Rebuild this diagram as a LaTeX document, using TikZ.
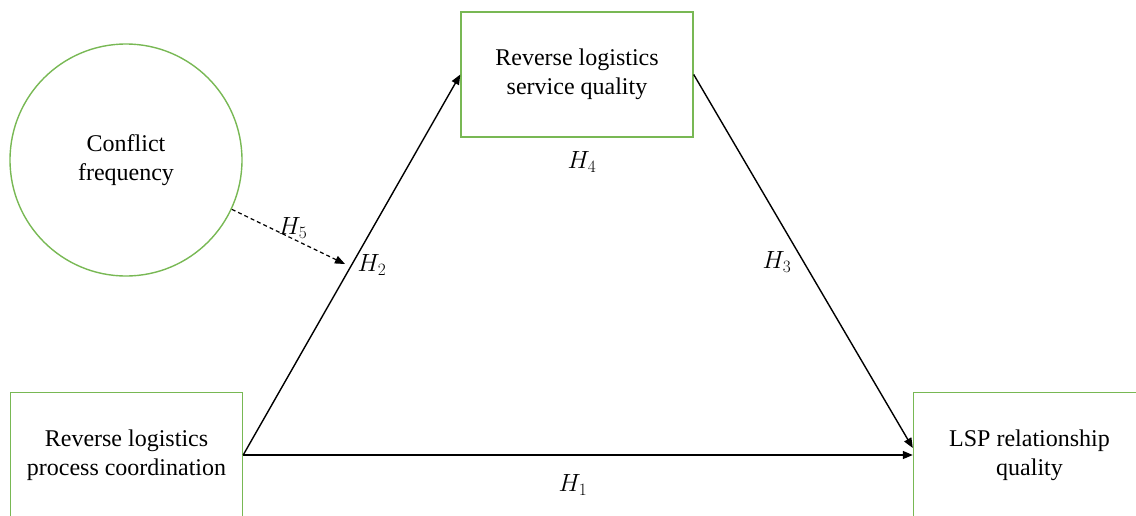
\documentclass[tikz,border=0pt]{standalone}
\usepackage{fontspec}
\setmainfont{Liberation Serif}
\usetikzlibrary{arrows.meta,shapes.geometric}
\definecolor{boxgreen}{RGB}{120,184,84}
\begin{document}
\begin{tikzpicture}[x=1pt,y=-1pt,
  box/.style={draw=boxgreen,line width=1.4pt,minimum width=232pt,minimum height=125pt,inner sep=0pt,align=center,font=\fontsize{24}{29}\selectfont},
  oval/.style={draw=boxgreen,line width=1.4pt,ellipse,minimum width=232pt,minimum height=232pt,inner sep=0pt,align=center,font=\fontsize{24}{29}\selectfont},
  link/.style={line width=1.4pt,-{Triangle[length=10pt,width=8pt]}},
  hlab/.style={font=\fontsize{24}{28}\selectfont,inner sep=1pt}]
\clip (0,0) rectangle (1136,515);
\useasboundingbox (0,0) rectangle (1136,515);
\node[box] (L) at (126.5,455) {Reverse logistics\\process coordination};
\node[box] (R) at (1029.5,455) {LSP relationship\\quality};
\node[box] (T) at (577,74.5) {Reverse logistics\\service quality};
\node[oval] (C) at (126,160) {Conflict\\frequency};
\coordinate (E5) at (345,264);
\draw[link] (L.east) -- (R.west);
\draw[link] (L.east) -- (T.west);
\draw[link] (T.east) -- ([yshift=7pt]R.west);
\draw[link,dash pattern=on 4pt off 3pt,line width=1.2pt] (C.-25) -- (E5);
\node[hlab] (h1) at (573,485) {$H_{1}$};
\node[hlab] (h2) at (372,265) {$H_{2}$};
\node[hlab] (h3) at (777,262) {$H_{3}$};
\node[hlab] (h4) at (582,162) {$H_{4}$};
\node[hlab] (h5) at (293,228) {$H_{5}$};
\end{tikzpicture}
\end{document}
